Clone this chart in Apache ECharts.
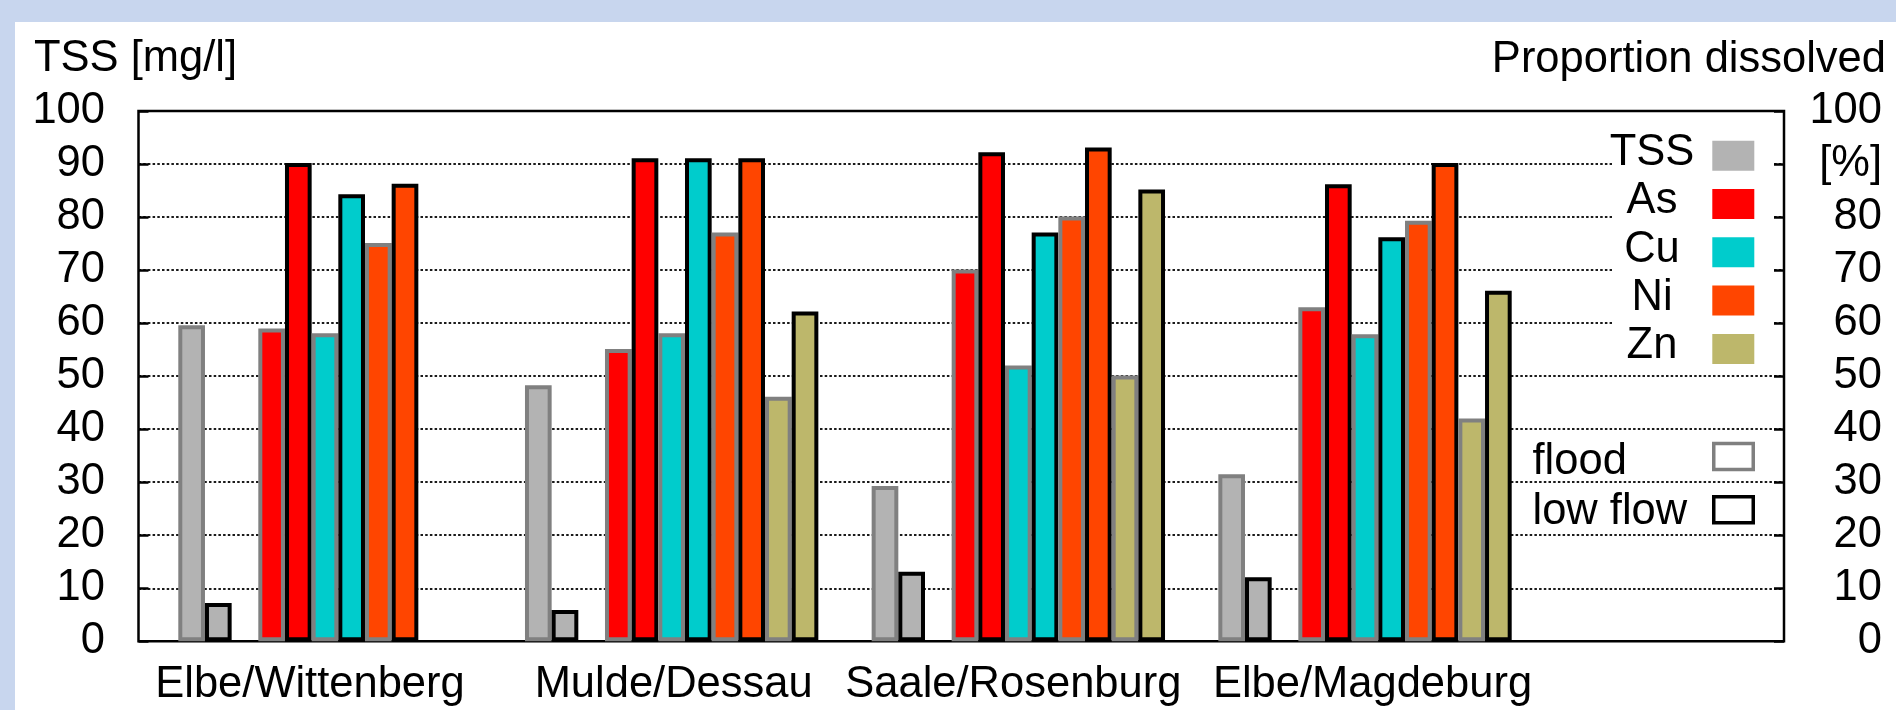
<!DOCTYPE html>
<html><head><meta charset="utf-8">
<script src="https://cdn.jsdelivr.net/npm/echarts@6/dist/echarts.min.js"></script>
<style>
html,body{margin:0;padding:0;width:1896px;height:710px;overflow:hidden;background:#c8d6ee;}
#panel{position:absolute;left:15px;top:22px;right:0;bottom:0;background:#fff;}
#chart{position:absolute;left:0;top:0;width:1896px;height:710px;}
</style></head><body><div id="panel"></div><div id="chart"></div>
<script>
// ---- data ----
const sites = ['Elbe/Wittenberg', 'Mulde/Dessau', 'Saale/Rosenburg', 'Elbe/Magdeburg'];
const tssFlood = [59.6, 48.3, 29.3, 31.5];
const tssLow   = [7.2, 5.9, 13.1, 12.1];
const asFlood  = [59.0, 55.1, 70.1, 63.0];
const asLow    = [90.2, 91.1, 92.2, 86.2];
const cuFlood  = [58.1, 58.1, 52.0, 57.9];
const cuLow    = [84.3, 91.1, 77.1, 76.2];
const niFlood  = [75.1, 77.1, 80.1, 79.3];
const niLow    = [86.3, 91.1, 93.1, 90.2];
const znFlood  = [null, 46.1, 50.1, 42.0];
const znLow    = [null, 62.2, 85.2, 66.1];
const legendItems = ['TSS', 'As', 'Cu', 'Ni', 'Zn'];
const conditions = ['flood', 'low flow'];
const yMin = 0, yMax = 100, yStep = 10;
const rightUnitTick = 90, rightUnitLabel = '[%]';
const leftTitle = 'TSS [mg/l]';
const rightTitle = 'Proportion dissolved';

// ---- styles ----
const FONT = '"Liberation Sans", Arial, Helvetica, sans-serif';
const FS = 43.5;
const fillColors = { TSS: '#b3b3b3', As: '#ff0000', Cu: '#00cccc', Ni: '#ff4500', Zn: '#bdb76b' };
const borderColors = { 'flood': '#808080', 'low flow': '#000000' };
const BW = 4;
// horizontal nudges of the site labels (px, negative = left)
const labelNudge = [-15, 2, -5, 7.5];

const seriesDefs = [
  ['TSS', 'flood', tssFlood], ['TSS', 'low flow', tssLow],
  [null, null, [null, null, null, null]],
  ['As', 'flood', asFlood], ['As', 'low flow', asLow],
  ['Cu', 'flood', cuFlood], ['Cu', 'low flow', cuLow],
  ['Ni', 'flood', niFlood], ['Ni', 'low flow', niLow],
  ['Zn', 'flood', znFlood], ['Zn', 'low flow', znLow]
];

const series = seriesDefs.map(function (d) {
  return {
    type: 'bar', name: d[0] ? d[0] + ' ' + d[1] : 'spacer',
    xAxisIndex: 1, yAxisIndex: 2,
    data: d[2], barWidth: 26.67, barGap: '0%',
    itemStyle: d[0] ? { color: fillColors[d[0]], borderColor: borderColors[d[1]], borderWidth: BW } : { color: 'transparent' },
    silent: true, animation: false
  };
});

const tickStyle = { show: true, inside: true, length: 10, lineStyle: { color: '#000', width: 2.5 } };

const rich = {};
labelNudge.forEach(function (n, i) {
  rich['s' + i] = { fontSize: FS, fontFamily: FONT, color: '#000', lineHeight: FS,
    padding: n < 0 ? [0, -2 * n, 0, 0] : [0, 0, 0, 2 * n] };
});

const graphics = [
  { type: 'text', z: 10, style: { text: leftTitle, x: 34, y: 59, fill: '#000', fontSize: FS, fontFamily: FONT, textAlign: 'left', textVerticalAlign: 'middle' } },
  { type: 'text', z: 10, style: { text: rightTitle, x: 1886, y: 60, fill: '#000', fontSize: FS, fontFamily: FONT, textAlign: 'right', textVerticalAlign: 'middle' } },
  { type: 'rect', z: 5, shape: { x: 1612, y: 128, width: 160, height: 241 }, style: { fill: '#fff' } }
];
legendItems.forEach(function (name, i) {
  graphics.push({ type: 'rect', z: 10, shape: { x: 1712.3, y: 140.7 + 48.3 * i, width: 42, height: 30 }, style: { fill: fillColors[name] } });
  graphics.push({ type: 'text', z: 10, style: { text: name, x: 1652, y: 153 + 48.3 * i, fill: '#000', fontSize: FS, fontFamily: FONT, textAlign: 'center', textVerticalAlign: 'middle' } });
});
conditions.forEach(function (name, i) {
  graphics.push({ type: 'rect', z: 10, shape: { x: 1713.75, y: 443.5 + 53.2 * i, width: 39.5, height: 26 }, style: { fill: '#fff', stroke: borderColors[name], lineWidth: 3.5 } });
  graphics.push({ type: 'text', z: 10, style: { text: name, x: 1532.5, y: 462 + 49.6 * i, fill: '#000', fontSize: FS, fontFamily: FONT, textAlign: 'left', textVerticalAlign: 'middle' } });
});

const chart = echarts.init(document.getElementById('chart'), null, { renderer: 'canvas' });
chart.setOption({
  animation: false,
  backgroundColor: 'transparent',
  grid: [
    { left: 138.5, right: 112, top: 111, bottom: 68.7, show: true, borderColor: '#000', borderWidth: 2.5, backgroundColor: 'transparent', outerBoundsMode: 'none', containLabel: false },
    { left: 151.65, width: 1386.7, top: 111, bottom: 68.7, outerBoundsMode: 'none', containLabel: false }
  ],
  xAxis: [
    { gridIndex: 0, type: 'value', min: 0, max: 1, show: false },
    { gridIndex: 1, type: 'category', data: sites,
      axisLine: { show: false }, axisTick: { show: false }, splitLine: { show: false },
      axisLabel: { interval: 0, fontSize: FS, fontFamily: FONT, color: '#000', margin: 22.2, lineHeight: FS, hideOverlap: false,
        formatter: function (v, i) { return '{s' + i + '|' + v + '}'; }, rich: rich } }
  ],
  yAxis: [
    { gridIndex: 0, type: 'value', position: 'left', min: yMin, max: yMax, interval: yStep,
      axisLine: { show: false }, axisTick: tickStyle,
      axisLabel: { fontSize: FS, fontFamily: FONT, color: '#000', margin: 33.5, showMinLabel: true, showMaxLabel: true },
      splitLine: { show: true, showMinLine: false, showMaxLine: false, lineStyle: { type: [2.5, 2.2], color: '#1a1a1a', width: 2 } } },
    { gridIndex: 0, type: 'value', position: 'right', min: yMin, max: yMax, interval: yStep,
      axisLine: { show: false }, axisTick: tickStyle,
      axisLabel: { fontSize: FS, fontFamily: FONT, color: '#000', margin: 98, align: 'right', showMinLabel: true, showMaxLabel: true,
        formatter: function (v) { return v === rightUnitTick ? rightUnitLabel : String(v); } },
      splitLine: { show: false } },
    { gridIndex: 1, type: 'value', min: yMin, max: yMax, show: false }
  ],
  series: series,
  graphic: graphics
});
</script></body></html>
